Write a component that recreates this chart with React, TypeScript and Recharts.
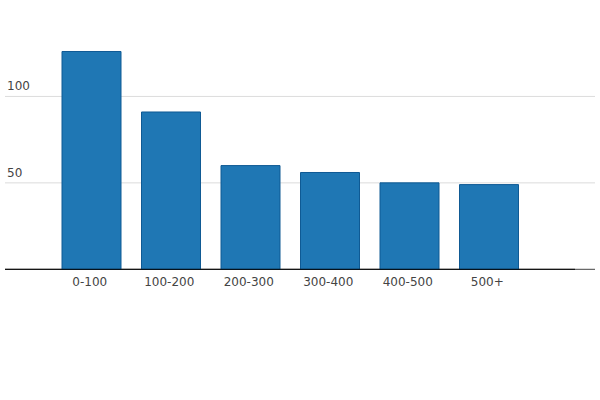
import React from 'react';
import { BarChart, Bar, XAxis, YAxis, CartesianGrid } from 'recharts';

const categories = ['0-100', '100-200', '200-300', '300-400', '400-500', '500+'];
const counts = [126, 91, 60, 56, 50, 49];
const yTicks = [0, 50, 100];

const data = categories.map((c, i) => ({ name: c, value: counts[i] }));

const renderYTick = (props: any) => {
  const { y, payload, index } = props;
  if (payload.value === 0) return <g key={`yt-${index}`} />;
  return (
    <text
      key={`yt-${index}`}
      x={7}
      y={y - 6}
      textAnchor="start"
      fill="#444"
      fontSize={12}
      fontFamily="DejaVu Sans"
    >
      {payload.value}
    </text>
  );
};

const GridLine = (props: any) => {
  const { x1, x2, y1, y2, index } = props;
  if (y1 < 20) return <g key={`g-${index}`} />;
  const isZero = Math.abs(y1 - 269.3) < 2;
  return (
    <line
      key={`g-${index}`}
      x1={x1}
      x2={x2}
      y1={y1}
      y2={y2}
      stroke={isZero ? '#444' : '#dcdcdc'}
      strokeWidth={1}
    />
  );
};

export default function App() {
  return (
    <div style={{ position: 'absolute', left: 0, top: 0, width: 600, height: 400 }}>
      <BarChart
        width={600}
        height={400}
        data={data}
        margin={{ top: 10, right: 25, bottom: 100.7, left: 4 }}
      >
        <CartesianGrid
          x={5}
          width={590}
          vertical={false}
          horizontalValues={yTicks}
          horizontal={GridLine as any}
        />
        <XAxis
          dataKey="name"
          padding={{ left: 47, right: 46 }}
          tickLine={false}
          axisLine={{ stroke: '#000', strokeWidth: 1 }}
          tick={{ fill: '#444', fontSize: 12, fontFamily: 'DejaVu Sans', dx: -2 }}
          height={30}
          interval={0}
        />
        <YAxis
          width={1}
          type="number"
          domain={[0, 150]}
          ticks={yTicks}
          interval={0}
          axisLine={false}
          tickLine={false}
          tick={renderYTick}
        />
        <Bar
          dataKey="value"
          fill="#1f77b4"
          stroke="#0f5a94"
          strokeWidth={1}
          barSize={59}
          isAnimationActive={false}
        />
      </BarChart>
    </div>
  );
}
